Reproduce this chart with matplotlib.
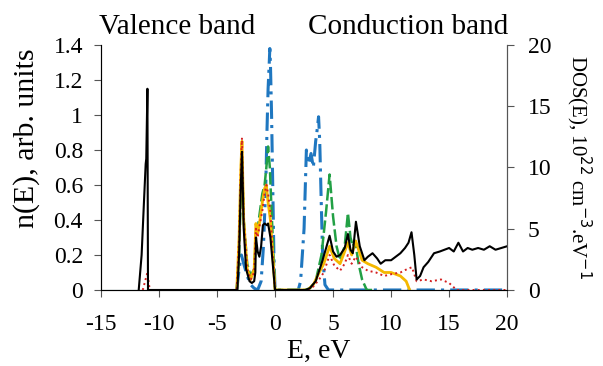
import numpy as np
import matplotlib.pyplot as plt

plt.rcParams['font.family'] = ['Liberation Serif', 'DejaVu Serif']
plt.rcParams['axes.unicode_minus'] = False

# partial densities of states, read in n(E) units (left axis)
e_blue = [-3.3, -3.1, -2.9, -2.7, -2.4, -2.1, -1.8, -1.5, -1.2, -1.0, -0.8, -0.7, -0.6, -0.5, -0.45, -0.4, -0.3, -0.2, -0.1, 0.0,
          2.0, 2.2, 2.5, 2.7, 2.9, 3.1, 3.3, 3.5, 3.6, 3.75, 3.85, 4.0, 4.1, 4.3, 4.6, 20.0]
n_blue = [0.0, 0.12, 0.2, 0.15, 0.08, 0.03, 0.01, 0.0, 0.05, 0.25, 0.6, 0.9, 1.15, 1.3, 1.38, 1.3, 1.0, 0.6, 0.2, 0.0,
          0.0, 0.05, 0.35, 0.8, 0.72, 0.78, 0.7, 0.85, 0.9, 0.99, 0.85, 0.45, 0.2, 0.03, 0.0, 0.0]

e_green = [-3.3, -3.1, -2.95, -2.85, -2.7, -2.4, -2.1, -1.8, -1.65, -1.5, -1.3, -1.1, -0.9, -0.75, -0.6, -0.45, -0.3, -0.1, 0.0,
           2.6, 3.0, 3.5, 4.0, 4.4, 4.7, 5.0, 5.3, 5.6, 6.0, 6.28, 6.5, 6.7, 6.9, 7.2, 7.5, 7.9, 8.5]
n_green = [0.0, 0.2, 0.55, 0.75, 0.4, 0.15, 0.08, 0.12, 0.3, 0.35, 0.45, 0.55, 0.6, 0.7, 0.82, 0.7, 0.45, 0.15, 0.0,
           0.0, 0.01, 0.05, 0.2, 0.45, 0.66, 0.42, 0.25, 0.17, 0.25, 0.44, 0.3, 0.25, 0.28, 0.15, 0.06, 0.0, 0.0]

e_red = [-11.4, -11.2, -11.0, -10.8, -3.3, -3.1, -2.95, -2.85, -2.7, -2.4, -2.1, -1.8, -1.65, -1.5, -1.3, -1.1, -0.9, -0.75, -0.6, -0.4, -0.2, 0.0,
         2.8, 3.3, 3.8, 4.2, 4.7, 5.1, 5.6, 6.0, 6.28, 6.6, 6.95, 7.5, 8.0, 8.7, 9.4, 10.0, 10.8, 11.4, 11.8, 12.2, 12.8, 13.5, 14.3, 15.0, 15.65, 20.0]
n_red = [0.0, 0.05, 0.1, 0.0, 0.0, 0.3, 0.7, 0.87, 0.4, 0.12, 0.06, 0.1, 0.35, 0.3, 0.38, 0.45, 0.55, 0.6, 0.55, 0.45, 0.2, 0.0,
         0.0, 0.02, 0.06, 0.1, 0.2, 0.14, 0.11, 0.15, 0.2, 0.15, 0.19, 0.13, 0.11, 0.1, 0.08, 0.09, 0.1, 0.12, 0.13, 0.05, 0.06, 0.05, 0.06, 0.04, 0.0, 0.0]

e_orange = [-3.3, -3.1, -2.95, -2.85, -2.7, -2.4, -2.1, -1.8, -1.65, -1.5, -1.3, -1.1, -0.9, -0.75, -0.6, -0.4, -0.2, 0.0,
            2.8, 3.3, 3.8, 4.2, 4.7, 5.1, 5.6, 6.0, 6.28, 6.6, 6.95, 7.5, 8.0, 8.7, 9.4, 10.0, 10.8, 11.3, 11.6]
n_orange = [0.0, 0.3, 0.7, 0.85, 0.4, 0.12, 0.06, 0.12, 0.38, 0.32, 0.4, 0.5, 0.58, 0.6, 0.5, 0.4, 0.2, 0.0,
            0.0, 0.03, 0.1, 0.15, 0.25, 0.18, 0.15, 0.22, 0.27, 0.2, 0.28, 0.17, 0.15, 0.13, 0.1, 0.1, 0.08, 0.05, 0.0]

# total DOS, read in the same n(E) units
e_total = [-11.75, -11.5, -11.3, -11.15, -11.1, -11.0, -10.95, -3.25, -3.1, -2.95, -2.85, -2.7, -2.5, -2.2, -2.0, -1.8, -1.7, -1.64,
           -1.5, -1.35, -1.2, -1.05, -0.9, -0.7, -0.6, -0.4, -0.2, 0.0,
           2.6, 3.0, 3.5, 4.0, 4.4, 4.7, 5.0, 5.3, 5.6, 6.0, 6.28, 6.5, 6.7, 6.97, 7.3, 7.7, 8.0, 8.4, 8.8, 9.1, 9.5, 10.0, 10.4, 10.8,
           11.2, 11.5, 11.76, 12.0, 12.2, 12.5, 12.8, 13.2, 13.7, 14.2, 14.6, 15.0, 15.4, 15.8, 16.2, 16.6, 17.0, 17.5, 18.0, 18.5, 19.0, 19.5, 20.0]
n_total = [0.0, 0.2, 0.5, 0.72, 0.75, 1.15, 0.0, 0.0, 0.2, 0.6, 0.79, 0.35, 0.12, 0.05, 0.04, 0.05, 0.1, 0.3,
           0.22, 0.19, 0.25, 0.37, 0.38, 0.37, 0.38, 0.3, 0.15, 0.0,
           0.0, 0.01, 0.05, 0.15, 0.24, 0.31, 0.22, 0.19, 0.2, 0.24, 0.32, 0.23, 0.21, 0.39, 0.25, 0.17, 0.19, 0.21, 0.18, 0.15, 0.17, 0.17, 0.19, 0.21,
           0.24, 0.27, 0.33, 0.2, 0.06, 0.08, 0.13, 0.16, 0.21, 0.22, 0.23, 0.24, 0.22, 0.27, 0.22, 0.24, 0.23, 0.24, 0.23, 0.25, 0.23, 0.24, 0.25]

fig = plt.figure(figsize=(6.03, 3.66), dpi=100)
ax = fig.add_axes([0.1675, 0.2077, 0.6735, 0.6693])

ax.axhline(0, color='#3aa6a6', lw=0.8, zorder=1)
ax.plot(e_blue, n_blue, color='#1f77c0', lw=2.2, ls=(0, (6, 2, 1, 2)), zorder=2)
ax.plot(e_green, n_green, color='#22a045', lw=1.8, ls=(0, (5, 1.5)), zorder=3)
ax.plot(e_orange, n_orange, color='#f5b800', lw=2.0, zorder=4)
ax.plot(e_red, n_red, color='#d42020', lw=1.4, ls=':', zorder=5)
ax.plot(e_total, n_total, color='black', lw=1.5, zorder=6)

ax.set_xlim(-15, 20)
ax.set_ylim(0, 1.4)
ax.set_xticks(np.arange(-15, 21, 5))
ax.set_yticks([0, 0.2, 0.4, 0.6, 0.8, 1.0, 1.2, 1.4])
ax.set_yticklabels(['0', '0.2', '0.4', '0.6', '0.8', '1', '1.2', '1.4'])
ax.spines['top'].set_visible(False)
for s in ['left', 'right', 'bottom']:
    ax.spines[s].set_color('#555555')
    ax.spines[s].set_linewidth(0.8)
ax.tick_params(direction='out', length=5, width=0.8, color='#555555', labelsize=17)
ax.tick_params(axis='x', pad=12)
ax.tick_params(axis='y', pad=8)
ax.set_xlabel('E, eV', fontsize=20)
ax.xaxis.set_label_coords(0.535, -0.2)
ax.set_ylabel('n(E), arb. units', fontsize=21.5)
ax.yaxis.set_label_coords(-0.15, 0.62)

ax2 = ax.twinx()
ax2.set_ylim(0, 20)
ax2.set_yticks([0, 5, 10, 15, 20])
ax2.spines['top'].set_visible(False)
ax2.spines['right'].set_color('#555555')
ax2.spines['right'].set_linewidth(0.8)
ax2.tick_params(direction='out', length=5, width=0.8, color='#555555', labelsize=17, pad=10)
ax2.set_ylabel('DOS(E), 10$^{22}$ cm$^{-3}$.eV$^{-1}$', fontsize=15, rotation=-90, labelpad=30)

fig.text(0.293, 0.926, 'Valence band', fontsize=21, ha='center', va='center')
fig.text(0.677, 0.926, 'Conduction band', fontsize=21, ha='center', va='center')

fig.savefig('out.png', dpi=100)
